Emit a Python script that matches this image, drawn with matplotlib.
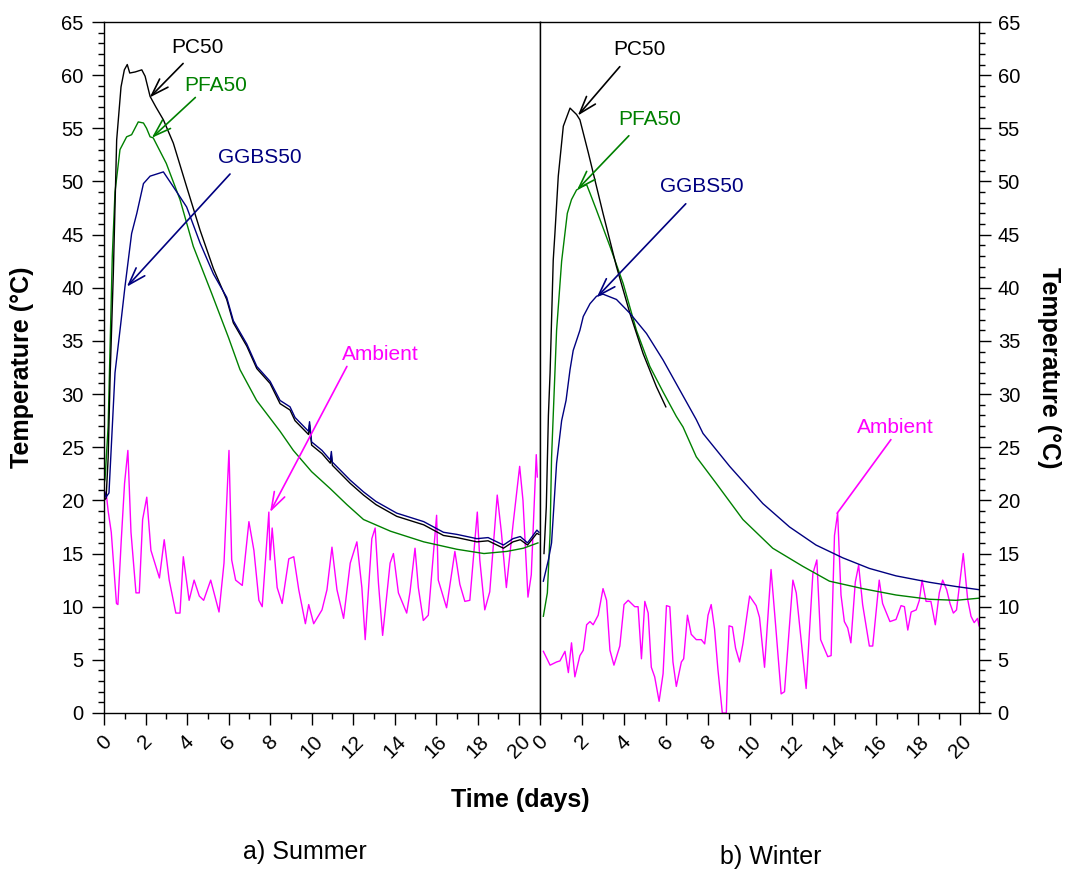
import matplotlib
matplotlib.use("Agg")
import matplotlib.pyplot as plt
from matplotlib.ticker import MultipleLocator

plt.rcParams['font.family'] = ['Liberation Sans', 'DejaVu Sans']

# ---------------- Summer (a) ----------------
pc50_s_day = [0, 0.1, 0.2, 0.3, 0.45, 0.61, 0.82, 0.98, 1.12, 1.24, 1.5, 1.82, 1.98, 2.22, 2.5, 2.86,
              3.34, 3.98, 4.63, 5.27, 5.91, 6.23, 6.88, 7.36, 8.0, 8.48, 8.96, 9.2, 9.85, 9.9, 10.0,
              10.5, 10.9, 10.95, 11.0, 11.86, 12.5, 13.1, 14.1, 15.4, 16.35, 17.0, 17.96, 18.5,
              19.24, 19.7, 20.05, 20.4, 20.85, 20.95]
pc50_s_T = [20.0, 20.2, 24.0, 32.0, 41.4, 53.9, 58.9, 60.5, 61.0, 60.2, 60.3, 60.5, 59.9, 58.0, 57.0,
            55.8, 53.6, 49.5, 45.4, 41.8, 38.9, 36.7, 34.5, 32.4, 31.0, 29.1, 28.5, 27.5, 26.2, 27.1,
            25.2, 24.4, 23.5, 24.2, 23.3, 21.6, 20.5, 19.6, 18.5, 17.7, 16.7, 16.5, 16.1, 16.2,
            15.5, 16.1, 16.3, 15.8, 16.9, 16.8]

ggbs_s_day = [0, 0.1, 0.24, 0.53, 0.8, 1.01, 1.17, 1.33, 1.58, 1.9, 2.22, 2.86, 3.34, 3.98, 4.63,
              5.27, 5.91, 6.23, 6.88, 7.36, 8.0, 8.48, 8.96, 9.2, 9.85, 9.9, 10.0, 10.5, 10.9,
              10.95, 11.0, 11.86, 12.5, 13.1, 14.1, 15.4, 16.35, 17.0, 17.96, 18.5, 19.24, 19.7,
              20.05, 20.4, 20.85, 20.95]
ggbs_s_T = [21.0, 20.3, 20.7, 32.0, 36.5, 40.1, 42.6, 45.1, 47.0, 49.8, 50.5, 50.9, 49.5, 47.6, 44.2,
            41.3, 39.1, 36.9, 34.7, 32.6, 31.2, 29.4, 28.8, 27.8, 26.5, 27.4, 25.5, 24.7, 23.8,
            24.6, 23.6, 21.9, 20.8, 19.9, 18.8, 18.0, 17.0, 16.8, 16.4, 16.5, 15.8, 16.4,
            16.6, 16.0, 17.2, 17.0]

pfa_s_day = [0, 0.05, 0.2, 0.3, 0.4, 0.53, 0.77, 1.09, 1.33, 1.65, 1.9, 2.05, 2.22, 2.37, 3.0, 3.66,
             4.3, 5.18, 6.0, 6.55, 7.35, 8.48, 9.12, 10.0, 10.9, 11.7, 12.5, 13.8, 15.4, 17.0,
             18.3, 19.4, 20.2, 20.9]
pfa_s_T = [21.6, 22.0, 27.0, 35.0, 43.0, 49.0, 53.0, 54.2, 54.4, 55.6, 55.5, 55.0, 54.2, 54.1, 51.7,
           48.3, 43.9, 39.5, 35.3, 32.3, 29.4, 26.5, 24.7, 22.7, 21.1, 19.6, 18.2, 17.1, 16.1,
           15.4, 15.0, 15.2, 15.5, 16.0]

amb_s_day = [0, 0.1, 0.2, 0.35, 0.6, 0.67, 0.83, 0.99, 1.15, 1.3, 1.54, 1.7, 1.86, 2.06, 2.26, 2.67,
             2.9, 3.14, 3.46, 3.66, 3.82, 4.1, 4.34, 4.59, 4.8, 5.14, 5.54, 5.78, 6.02, 6.15, 6.34,
             6.66, 6.98, 7.22, 7.46, 7.62, 7.94, 8.0, 8.1, 8.34, 8.58, 8.9, 9.14, 9.38, 9.7, 9.86,
             10.1, 10.5, 10.74, 10.98, 11.22, 11.54, 11.86, 12.18, 12.42, 12.58, 12.9, 13.06,
             13.22, 13.42, 13.78, 13.94, 14.18, 14.58, 14.74, 14.98, 15.14, 15.38, 15.62, 16.02,
             16.1, 16.5, 16.9, 17.14, 17.38, 17.62, 17.98, 18.1, 18.34, 18.58, 18.94, 19.14,
             19.38, 19.7, 20.02, 20.18, 20.42, 20.58, 20.82, 20.87]
amb_s_T = [20.0, 20.8, 19.0, 17.0, 10.3, 10.2, 16.2, 21.6, 24.7, 17.0, 11.3, 11.3, 18.2, 20.3, 15.3,
           12.7, 16.3, 12.5, 9.4, 9.4, 14.7, 10.6, 12.5, 11.0, 10.6, 12.5, 9.5, 14.1, 24.7, 14.4,
           12.5, 12.0, 18.0, 15.3, 10.6, 10.0, 18.9, 14.4, 17.4, 11.8, 10.3, 14.5, 14.7, 11.6,
           8.4, 10.2, 8.4, 9.7, 11.6, 15.6, 11.6, 8.9, 14.1, 16.1, 11.8, 6.9, 16.4, 17.4, 12.2,
           7.3, 14.1, 15.0, 11.3, 9.4, 11.4, 15.5, 11.8, 8.7, 9.2, 18.6, 12.5, 9.9, 15.2, 12.1,
           10.5, 10.6, 18.9, 14.4, 9.7, 11.4, 20.5, 17.0, 11.8, 17.7, 23.2, 20.0, 10.9, 13.0,
           24.3, 22.2]

# ---------------- Winter (b) ----------------
pc50_w_day = [0.19, 0.3, 0.4, 0.48, 0.63, 0.71, 0.87, 1.11, 1.43, 1.74, 1.9, 2.3, 3.0, 3.64, 4.28,
              4.91, 5.54, 5.99]
pc50_w_T = [15.0, 19.4, 28.0, 32.0, 42.6, 45.1, 50.5, 55.2, 56.9, 56.3, 55.8, 52.7, 47.0, 42.0, 37.6,
            33.8, 30.7, 28.8]

pfa_w_day = [0.16, 0.35, 0.48, 0.55, 0.63, 0.79, 1.03, 1.3, 1.5, 1.74, 2.0, 2.22, 2.38, 2.69, 3.33,
             3.96, 4.59, 5.23, 5.86, 6.49, 6.81, 7.44, 8.39, 9.66, 11.08, 12.51, 13.78, 15.36,
             16.95, 18.53, 19.8, 20.9]
pfa_w_T = [9.1, 11.3, 16.9, 24.0, 28.0, 36.0, 42.5, 47.0, 48.3, 49.2, 49.5, 49.7, 48.9, 47.3, 43.9,
           40.4, 36.0, 32.6, 30.2, 27.9, 26.9, 24.1, 21.6, 18.2, 15.5, 13.8, 12.4, 11.7,
           11.1, 10.7, 10.6, 10.8]

ggbs_w_day = [0.16, 0.4, 0.55, 0.79, 1.03, 1.24, 1.43, 1.58, 1.9, 2.06, 2.38, 2.69, 3.0, 3.64, 4.28,
              5.07, 5.86, 6.65, 7.44, 7.76, 9.03, 10.61, 11.88, 13.14, 14.41, 15.68, 16.95,
              18.53, 19.8, 20.9]
ggbs_w_T = [12.4, 14.4, 16.0, 23.5, 27.5, 29.4, 32.3, 34.1, 36.0, 37.3, 38.5, 39.2, 39.4, 38.9, 37.6,
            35.7, 33.2, 30.4, 27.6, 26.3, 23.2, 19.7, 17.5, 15.8, 14.6, 13.6, 12.9,
            12.3, 11.9, 11.6]

amb_w_day = [0.16, 0.48, 0.79, 0.95, 1.19, 1.35, 1.5, 1.66, 1.9, 2.06, 2.22, 2.38, 2.53, 2.77, 3.0,
             3.17, 3.33, 3.52, 3.8, 4.0, 4.2, 4.51, 4.67, 4.83, 4.99, 5.15, 5.3, 5.46, 5.67, 5.86,
             6.02, 6.18, 6.33, 6.49, 6.73, 6.84, 7.02, 7.2, 7.44, 7.68, 7.84, 8.0, 8.15, 8.31,
             8.47, 8.68, 8.87, 9.0, 9.16, 9.31, 9.5, 9.66, 9.98, 10.29, 10.45, 10.69, 11.0,
             11.24, 11.48, 11.64, 12.04, 12.2, 12.67, 12.99, 13.18, 13.36, 13.7, 13.86, 14.02,
             14.17, 14.33, 14.49, 14.65, 14.8, 15.01, 15.17, 15.36, 15.68, 15.84, 16.15, 16.31,
             16.66, 16.95, 17.19, 17.35, 17.51, 17.67, 17.91, 18.06, 18.19, 18.38, 18.61, 18.82,
             19.01, 19.17, 19.36, 19.52, 19.68, 19.83, 20.15, 20.36, 20.52, 20.67, 20.83, 20.9]
amb_w_T = [5.8, 4.5, 4.8, 4.9, 5.8, 3.8, 6.6, 3.4, 5.4, 5.9, 8.3, 8.6, 8.3, 9.2, 11.7,
           10.6, 5.9, 4.5, 6.3, 10.2, 10.6, 10.0, 10.0, 5.1, 10.5, 9.4, 4.3, 3.4, 1.1, 3.7,
           10.1, 10.0, 4.8, 2.5, 4.8, 5.1, 9.2, 7.4, 6.9, 6.9, 6.5, 9.2, 10.2, 7.9,
           4.1, 0.0, 0.0, 8.2, 8.1, 6.1, 4.8, 6.5, 11.0, 10.1, 9.0, 4.3, 13.5,
           7.7, 1.8, 2.0, 12.5, 11.3, 2.3, 13.1, 14.4, 6.9, 5.3, 5.4, 16.7,
           18.8, 11.1, 8.6, 8.0, 6.6, 12.3, 13.9, 10.2, 6.3, 6.3, 12.5, 10.3,
           8.6, 8.8, 10.1, 10.0, 7.8, 9.5, 9.7, 10.6, 12.5, 10.5, 10.5, 8.3,
           11.3, 12.5, 11.6, 10.3, 9.4, 9.7, 15.0, 10.7, 9.1, 8.5, 8.9, 8.2]

C_PC = 'black'
C_PFA = '#008000'
C_GGBS = '#000080'
C_AMB = '#FF00FF'

W, H = 1065, 869
fig = plt.figure(figsize=(W / 100, H / 100), dpi=100)
bottom = 1 - 713 / H
height = 691 / H
ax1 = fig.add_axes([104 / W, bottom, 436 / W, height])
ax2 = fig.add_axes([540 / W, bottom, 439 / W, height])

lw = 1.0
ax1.plot(amb_s_day, amb_s_T, color=C_AMB, lw=lw)
ax1.plot(pfa_s_day, pfa_s_T, color=C_PFA, lw=lw)
ax1.plot(pc50_s_day, pc50_s_T, color=C_PC, lw=lw)
ax1.plot(ggbs_s_day, ggbs_s_T, color=C_GGBS, lw=lw)

ax2.plot(amb_w_day, amb_w_T, color=C_AMB, lw=lw)
ax2.plot(pfa_w_day, pfa_w_T, color=C_PFA, lw=lw)
ax2.plot(pc50_w_day, pc50_w_T, color=C_PC, lw=lw)
ax2.plot(ggbs_w_day, ggbs_w_T, color=C_GGBS, lw=lw)

for ax, xmax in ((ax1, 21.0), (ax2, 20.9)):
    ax.set_xlim(0, xmax)
    ax.set_ylim(0, 65)
    ax.xaxis.set_major_locator(MultipleLocator(2))
    ax.xaxis.set_minor_locator(MultipleLocator(1))
    ax.yaxis.set_major_locator(MultipleLocator(5))
    ax.yaxis.set_minor_locator(MultipleLocator(1))
    ax.tick_params(which='major', direction='out', length=8.5, width=1.0, labelsize=14.5)
    ax.tick_params(which='minor', direction='out', length=4.5, width=1.0)
    ax.tick_params(axis='x', which='both', top=False, pad=5)
    ax.tick_params(axis='x', which='major', labelsize=15)
    for sp in ax.spines.values():
        sp.set_linewidth(1.0)
    for lab in ax.get_xticklabels():
        lab.set_rotation(45)
        lab.set_ha('center')
        lab.set_va('top')

ax1.tick_params(axis='y', which='both', left=True, right=False, pad=6)
ax2.tick_params(axis='y', which='both', left=False, right=True, labelleft=False,
                labelright=True, pad=5)

ax1.set_ylabel('Temperature (°C)', fontsize=18, fontweight='bold', va='center')
ax1.yaxis.set_label_coords(-0.188, 0.5)
ax2.yaxis.set_label_position('right')
ax2.set_ylabel('Temperature (°C)', fontsize=18, fontweight='bold', rotation=270, va='center')
ax2.yaxis.set_label_coords(1.16, 0.5)

fig.text(520 / W, 1 - 800 / H, 'Time (days)', fontsize=18, fontweight='bold', ha='center', va='center')
fig.text(305 / W, 1 - 852 / H, 'a) Summer', fontsize=18, ha='center', va='center')
fig.text(771 / W, 1 - 857 / H, 'b) Winter', fontsize=18, ha='center', va='center')

ARROW = '->,head_length=0.9,head_width=0.3'


def label(ax, txt, txy, tail, head, color):
    ax.text(txy[0], txy[1], txt, color=color, fontsize=15, ha='center', va='center')
    ax.annotate('', xy=head, xytext=tail,
                arrowprops=dict(arrowstyle=ARROW, color=color, lw=1.2, mutation_scale=14,
                                shrinkA=0, shrinkB=0))


label(ax1, 'PC50', (4.5, 62.6), (3.81, 61.1), (2.2, 57.9), C_PC)
label(ax1, 'PFA50', (5.4, 59.0), (4.4, 57.9), (2.3, 54.1), C_PFA)
label(ax1, 'GGBS50', (7.5, 52.3), (6.07, 50.7), (1.1, 40.1), C_GGBS)
label(ax1, 'Ambient', (13.3, 33.7), (11.7, 32.6), (8.0, 18.9), C_AMB)

label(ax2, 'PC50', (4.75, 62.4), (3.8, 60.8), (1.8, 56.2), C_PC)
label(ax2, 'PFA50', (5.2, 55.8), (4.23, 54.3), (1.76, 49.2), C_PFA)
label(ax2, 'GGBS50', (7.7, 49.5), (6.94, 47.9), (2.7, 39.1), C_GGBS)
ax2.text(16.9, 26.9, 'Ambient', color=C_AMB, fontsize=15, ha='center', va='center')
ax2.plot([16.7, 14.15], [25.7, 18.8], color=C_AMB, lw=1.2)

fig.savefig('out.png', dpi=100)
